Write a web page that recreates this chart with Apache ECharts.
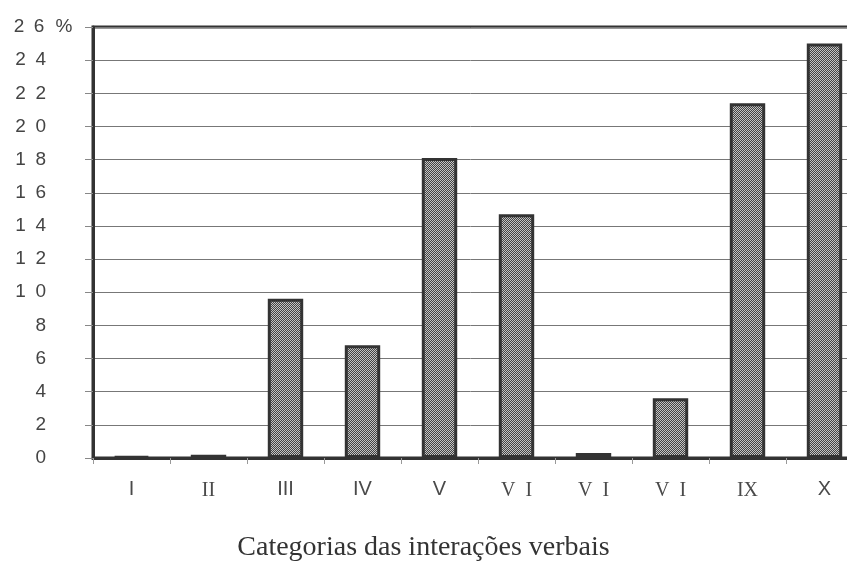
<!DOCTYPE html>
<html>
<head>
<meta charset="utf-8">
<script src="https://cdn.jsdelivr.net/npm/echarts@6/dist/echarts.min.js"></script>
<style>
  html, body { margin: 0; padding: 0; background: #fff; }
  #chart { width: 847px; height: 567px; }
</style>
</head>
<body>
<div id="chart"></div>
<script>
// categories of verbal interactions, as printed under the bars
const categories = ['I', 'II', 'III', 'IV', 'V', 'V I', 'V I', 'V I', 'IX', 'X']
// percentage per category
const percentages = [0.1, 0.2, 9.6, 6.8, 18.1, 14.7, 0.3, 3.6, 21.4, 25.0]
const yTicks = [0, 2, 4, 6, 8, 10, 12, 14, 16, 18, 20, 22, 24, 26]

// labels printed in a sans face in the scan, the rest look serif
const sansLabels = new Set([0, 2, 3, 4, 9])

// small dotted fill like the print screen
function dotPattern() {
  const c = document.createElement('canvas')
  c.width = 2
  c.height = 2
  const ctx = c.getContext('2d')
  ctx.fillStyle = '#444'
  ctx.fillRect(0, 0, 2, 2)
  ctx.fillStyle = '#c4c4c4'
  ctx.fillRect(0, 0, 1, 1)
  ctx.fillRect(1, 1, 1, 1)
  return c
}

const chart = echarts.init(document.getElementById('chart'))

chart.setOption({
  backgroundColor: '#fff',
  animation: false,
  // plot area runs past the right edge of the scan
  grid: {
    left: 93,
    top: 27,
    bottom: 109,
    width: 770,
    outerBoundsMode: 'none',
    show: true,
    borderColor: '#333',
    borderWidth: 3,
  },
  title: {
    text: 'Categorias das interações verbais',
    left: 'center',
    top: 529,
    textStyle: {
      fontFamily: 'Liberation Serif',
      fontWeight: 'normal',
      fontSize: 28,
      color: '#333',
    },
  },
  xAxis: {
    type: 'category',
    data: categories,
    axisLine: { lineStyle: { color: '#333', width: 3 } },
    axisTick: { show: true, length: 6, lineStyle: { color: '#999' } },
    axisLabel: {
      margin: 21,
      interval: 0,
      formatter: (val, idx) => {
        const txt = val.replace(' ', '\u2002')
        return sansLabels.has(idx) ? `{s|${txt}}` : `{r|${txt}}`
      },
      rich: {
        s: { fontFamily: 'Liberation Sans', fontSize: 20, lineHeight: 20, color: '#4a4a4a' },
        r: { fontFamily: 'Liberation Serif', fontSize: 20, lineHeight: 20, color: '#4a4a4a', padding: [3, 0, 0, 0] },
      },
    },
  },
  yAxis: {
    type: 'value',
    min: 0,
    max: 26,
    interval: 2,
    axisLine: { show: true, lineStyle: { color: '#333', width: 3 } },
    axisTick: { show: true, length: 8, lineStyle: { color: '#888' } },
    splitLine: { lineStyle: { color: '#777', width: 1 } },
    axisLabel: {
      align: 'left',
      margin: 81,
      formatter: (val) => {
        if (yTicks.indexOf(val) < 0) return ''
        const spaced = String(val).split('').join('\u2002')
        return val === 26 ? `{n|${spaced}}{p|\u2002%}` : `{n|${spaced}}`
      },
      rich: {
        n: { fontFamily: 'Liberation Sans', fontSize: 19, color: '#444', width: 34, align: 'right' },
        p: { fontFamily: 'Liberation Sans', fontSize: 19, color: '#444' },
      },
    },
  },
  series: [
    {
      type: 'bar',
      data: percentages,
      barWidth: '46%',
      itemStyle: {
        color: { image: dotPattern(), repeat: 'repeat' },
        borderColor: '#333',
        borderWidth: 3,
      },
    },
  ],
})
</script>
</body>
</html>
